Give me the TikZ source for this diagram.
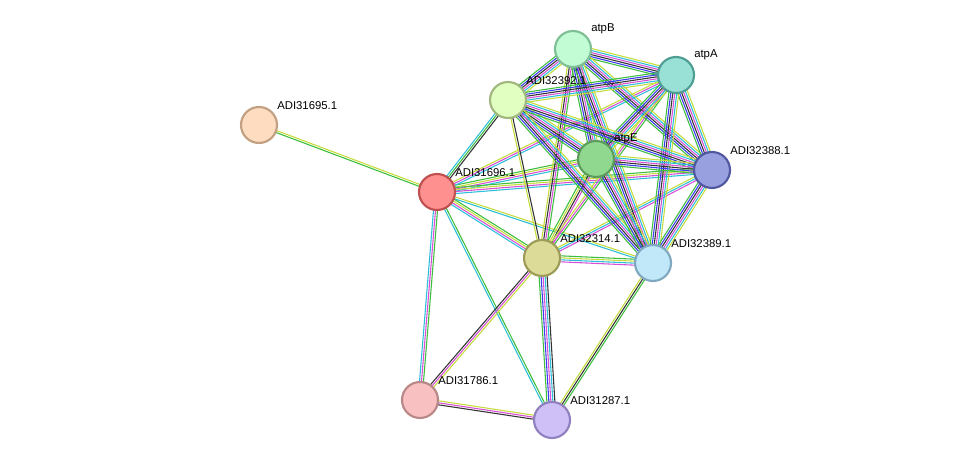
\documentclass[tikz,border=0pt]{standalone}
\usepackage{fontspec}
\setmainfont{Liberation Sans}
\usetikzlibrary{calc}
\definecolor{cG}{HTML}{3DBE3D}
\definecolor{cB}{HTML}{3A3AF0}
\definecolor{cK}{HTML}{333333}
\definecolor{cM}{HTML}{D64FD6}
\definecolor{cC}{HTML}{2DBFD9}
\definecolor{cY}{HTML}{C5DC3C}
\newcommand\sedge[4]{%
  \foreach \c [count=\i] in {#4} {%
    \pgfmathsetmacro\off{(\i-(#3+1)/2)*1.5}%
    \draw[\c,line width=0.8pt] ($(#1)!\off pt!90:(#2)$) -- ($(#2)!\off pt!-90:(#1)$);
  }}
\tikzset{prot/.style={circle,minimum size=27pt,inner sep=0pt,line width=1.6pt},
  lab/.style={font=\fontsize{8.5}{10}\selectfont,anchor=south west,inner sep=0pt}}
\begin{document}
\begin{tikzpicture}[x=0.75pt,y=-0.75pt]
\useasboundingbox (0,0) rectangle (975,466);
\fill[white] (0,0) rectangle (975,466);
\coordinate (atpB) at (573,49);
\coordinate (atpA) at (676,75);
\coordinate (g92) at (508,100);
\coordinate (g95) at (259,125);
\coordinate (atpE) at (596,159);
\coordinate (g88) at (712,170);
\coordinate (g96) at (437,192);
\coordinate (g14) at (542,258);
\coordinate (g89) at (653,263);
\coordinate (g86) at (420,400);
\coordinate (g87) at (552,420);
% edges
\sedge{g95}{g96}{2}{cG,cY}
\sedge{g96}{g92}{3}{cK,cG,cC}
\sedge{g96}{atpE}{4}{cC,cM,cY,cG}
\sedge{g96}{g88}{4}{cC,cM,cY,cG}
\sedge{g96}{g89}{2}{cC,cY}
\sedge{g96}{g14}{4}{cC,cM,cY,cG}
\sedge{g96}{g86}{3}{cC,cM,cG}
\sedge{g96}{g87}{2}{cC,cG}
\sedge{g96}{atpA}{3}{cC,cM,cY}
\sedge{g14}{g86}{3}{cK,cM,cY}
\sedge{g14}{g87}{5}{cG,cB,cM,cC,cK}
\sedge{g14}{g89}{4}{cM,cC,cY,cG}
\sedge{g14}{g92}{2}{cK,cY}
\sedge{g14}{atpE}{4}{cM,cK,cY,cG}
\sedge{g14}{atpB}{4}{cG,cM,cK,cY}
\sedge{g14}{atpA}{3}{cG,cM,cY}
\sedge{g14}{g88}{3}{cM,cC,cY}
\sedge{g86}{g87}{3}{cK,cM,cY}
\sedge{g87}{g89}{3}{cG,cK,cY}
\foreach \a/\b in {atpB/atpA,atpB/g92,atpB/atpE,atpB/g88,atpB/g89,atpA/g92,atpA/atpE,atpA/g88,atpA/g89,g92/atpE,g92/g88,g92/g89,atpE/g88,atpE/g89,g88/g89}
  {\sedge{\a}{\b}{6}{cG,cB,cK,cM,cC,cY}}
% nodes
\node[prot,fill={rgb,255:red,193;green,252;blue,212},draw={rgb,255:red,127;green,191;blue,149}] (nB) at (atpB) {};
\node[prot,fill={rgb,255:red,153;green,224;blue,214},draw={rgb,255:red,79;green,158;blue,147}] (nA) at (atpA) {};
\node[prot,fill={rgb,255:red,224;green,255;blue,192},draw={rgb,255:red,160;green,184;blue,128}] (n92) at (g92) {};
\node[prot,fill={rgb,255:red,253;green,220;blue,192},draw={rgb,255:red,192;green,160;blue,128}] (n95) at (g95) {};
\node[prot,fill={rgb,255:red,144;green,216;blue,144},draw={rgb,255:red,92;green,156;blue,92}] (nE) at (atpE) {};
\node[prot,fill={rgb,255:red,152;green,160;blue,224},draw={rgb,255:red,80;green,88;blue,160}] (n88) at (g88) {};
\node[prot,fill={rgb,255:red,255;green,144;blue,144},draw={rgb,255:red,192;green,80;blue,80}] (n96) at (g96) {};
\node[prot,fill={rgb,255:red,220;green,220;blue,152},draw={rgb,255:red,156;green,156;blue,88}] (n14) at (g14) {};
\node[prot,fill={rgb,255:red,192;green,232;blue,248},draw={rgb,255:red,128;green,168;blue,192}] (n89) at (g89) {};
\node[prot,fill={rgb,255:red,248;green,192;blue,192},draw={rgb,255:red,184;green,136;blue,136}] (n86) at (g86) {};
\node[prot,fill={rgb,255:red,208;green,192;blue,248},draw={rgb,255:red,144;green,128;blue,192}] (n87) at (g87) {};
% labels
\node[lab] at (591,34) {atpB};
\node[lab] at (694,60) {atpA};
\node[lab] at (526,85) {ADI32392.1};
\node[lab] at (277,110) {ADI31695.1};
\node[lab] at (614,144) {atpE};
\node[lab] at (730,155) {ADI32388.1};
\node[lab] at (455,177) {ADI31696.1};
\node[lab] at (560,243) {ADI32314.1};
\node[lab] at (671,248) {ADI32389.1};
\node[lab] at (438,385) {ADI31786.1};
\node[lab] at (570,405) {ADI31287.1};
\end{tikzpicture}
\end{document}
